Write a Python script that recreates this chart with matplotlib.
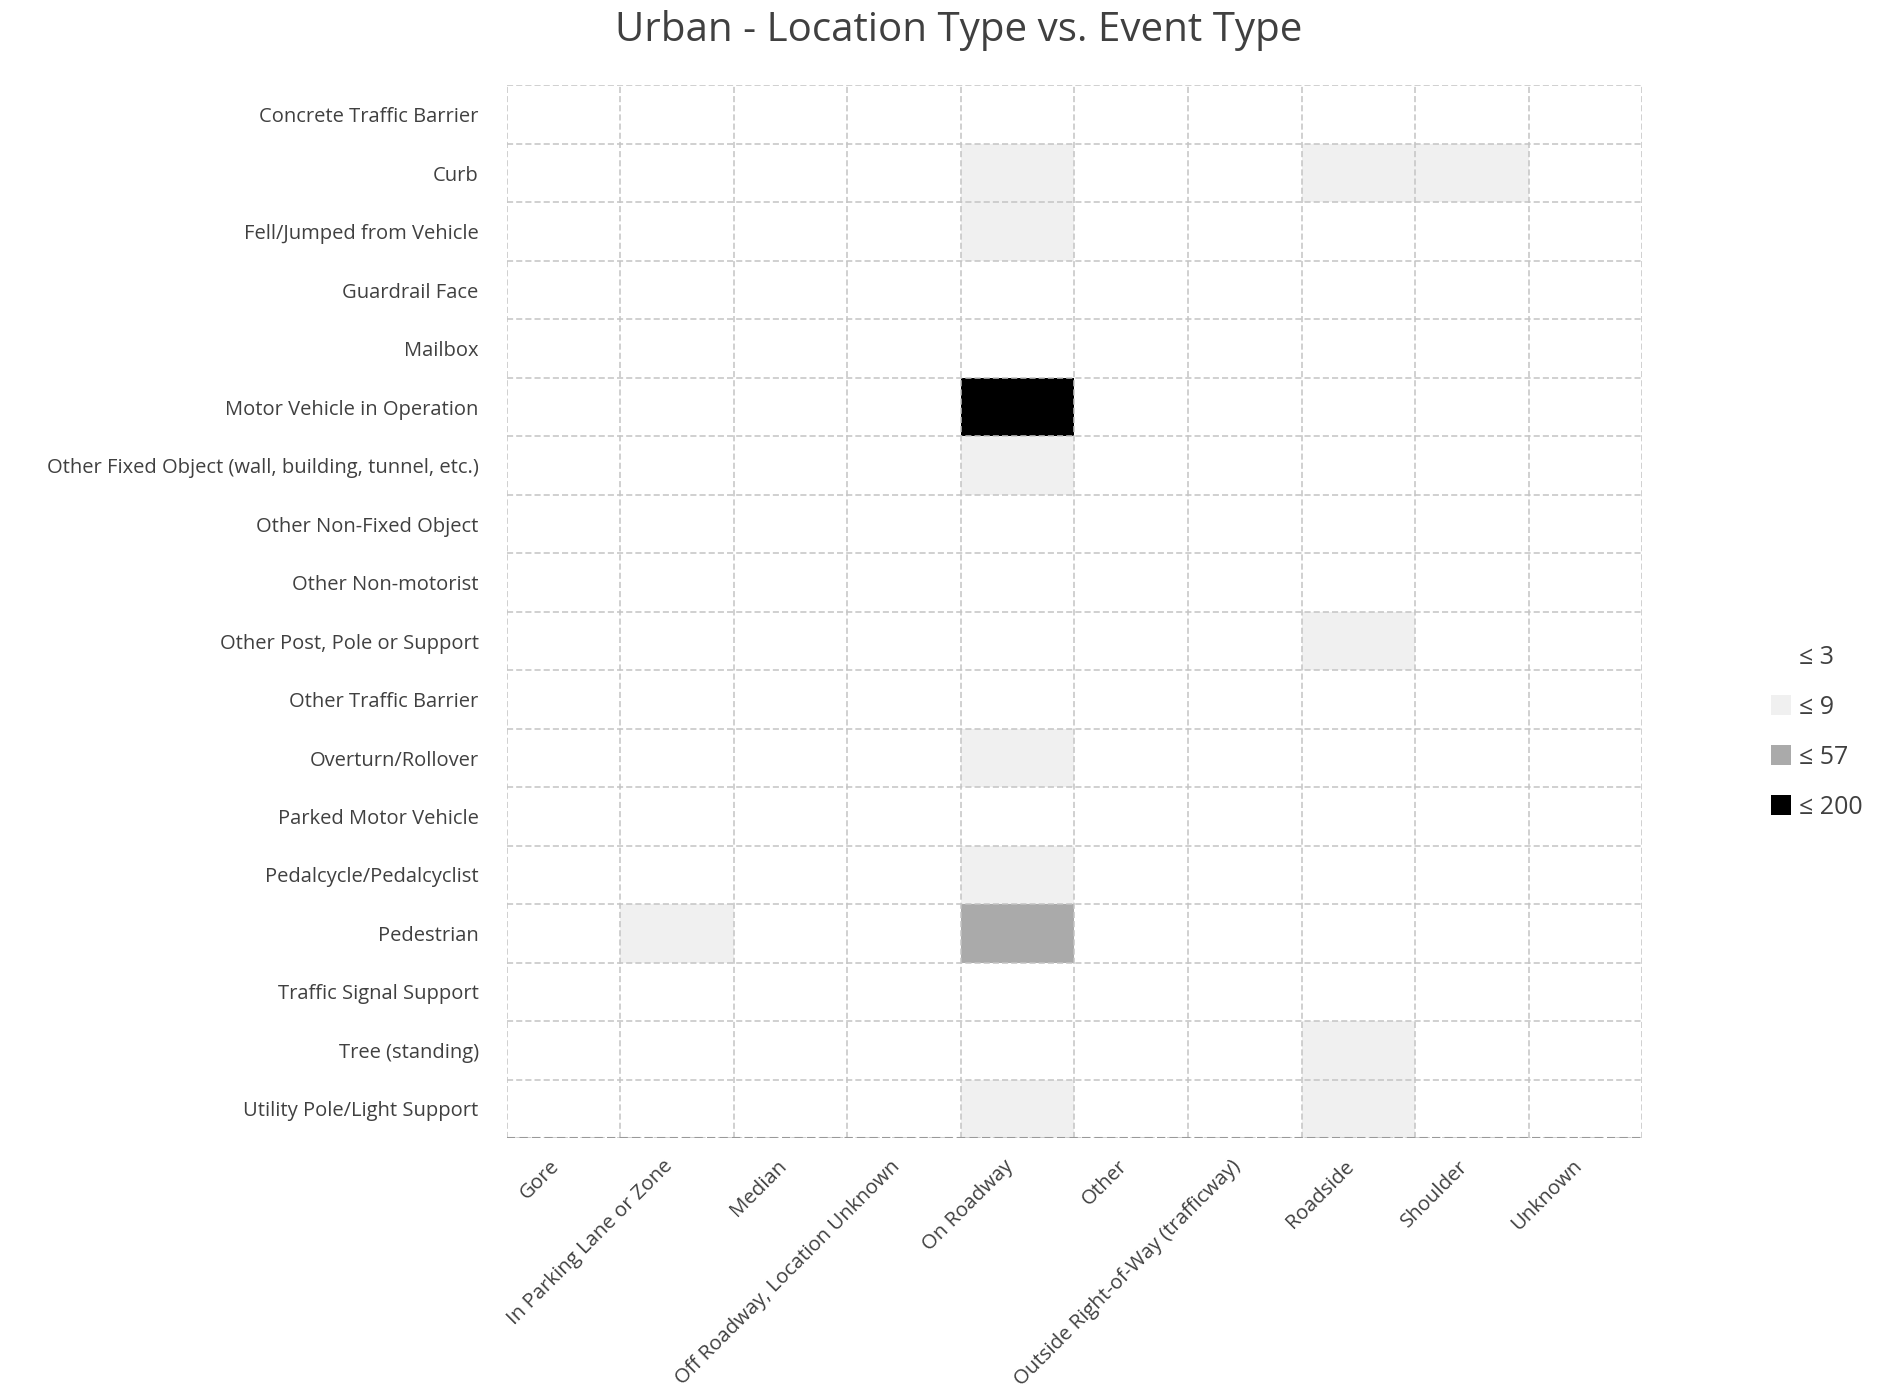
import matplotlib
matplotlib.use("Agg")
import matplotlib.pyplot as plt
from matplotlib.colors import ListedColormap, BoundaryNorm
from matplotlib.patches import Patch
from matplotlib.transforms import ScaledTranslation
import numpy as np

plt.rcParams["font.family"] = ["Open Sans", "DejaVu Sans"]

event_types = [
    "Concrete Traffic Barrier", "Curb", "Fell/Jumped from Vehicle", "Guardrail Face",
    "Mailbox", "Motor Vehicle in Operation", "Other Fixed Object (wall, building, tunnel, etc.)",
    "Other Non-Fixed Object", "Other Non-motorist", "Other Post, Pole or Support",
    "Other Traffic Barrier", "Overturn/Rollover", "Parked Motor Vehicle",
    "Pedalcycle/Pedalcyclist", "Pedestrian", "Traffic Signal Support",
    "Tree (standing)", "Utility Pole/Light Support",
]
location_types = [
    "Gore", "In Parking Lane or Zone", "Median", "Off Roadway, Location Unknown",
    "On Roadway", "Other", "Outside Right-of-Way (trafficway)", "Roadside",
    "Shoulder", "Unknown",
]

# counts per event type (rows) and location type (columns)
counts = [
    [0, 0, 0, 0, 1, 0, 0, 0, 0, 0],
    [0, 0, 0, 0, 5, 0, 0, 6, 4, 0],
    [0, 0, 0, 0, 6, 0, 0, 0, 0, 0],
    [0, 0, 0, 0, 1, 0, 0, 2, 0, 0],
    [0, 0, 0, 0, 0, 0, 0, 1, 0, 0],
    [0, 0, 0, 0, 200, 0, 0, 2, 1, 0],
    [0, 0, 0, 0, 5, 0, 0, 2, 0, 0],
    [0, 1, 0, 0, 3, 0, 0, 1, 0, 0],
    [0, 0, 0, 0, 2, 0, 0, 0, 0, 0],
    [0, 0, 0, 0, 2, 0, 0, 7, 0, 0],
    [0, 0, 1, 0, 1, 0, 0, 0, 0, 0],
    [0, 0, 0, 0, 6, 0, 0, 3, 0, 0],
    [0, 2, 0, 0, 3, 0, 0, 0, 0, 0],
    [0, 0, 0, 0, 8, 0, 0, 0, 0, 0],
    [0, 5, 0, 0, 57, 0, 0, 1, 0, 0],
    [0, 0, 0, 0, 2, 0, 0, 3, 0, 0],
    [0, 0, 0, 0, 1, 0, 0, 9, 0, 0],
    [0, 0, 0, 0, 6, 0, 0, 8, 0, 0],
]

bins = [3, 9, 57, 200]
bin_colors = ["#ffffff", "#f0f0f0", "#aaaaaa", "#000000"]
bin_labels = ["≤ 3", "≤ 9", "≤ 57", "≤ 200"]

data = np.array(counts)
cmap = ListedColormap(bin_colors)
# integer counts: "<= b" means below b + 0.5
norm = BoundaryNorm([-0.5] + [b + 0.5 for b in bins], cmap.N)

fig = plt.figure(figsize=(18.9, 14), dpi=100)
ax = fig.add_axes([0.268, 0.187, 0.601, 0.752])

ax.pcolormesh(data, cmap=cmap, norm=norm)
ax.set_xlim(0, data.shape[1])
ax.set_ylim(data.shape[0], 0)

# dashed cell borders
grid_kw = dict(color="#c4c4c4", linestyle=(0, (4, 2)), linewidth=1.1)
for i in range(data.shape[0] + 1):
    ax.axhline(i, **grid_kw)
for j in range(data.shape[1] + 1):
    ax.axvline(j, **grid_kw)
ax.axhline(data.shape[0], color="#999999", linestyle=(0, (4, 2)), linewidth=1.5)
for s in ax.spines.values():
    s.set_visible(False)

ax.set_yticks(np.arange(data.shape[0]) + 0.5)
ax.set_yticklabels(event_types, fontsize=14.5, color="#404040")
ax.set_xticks(np.arange(data.shape[1]) + 0.5)
ax.set_xticklabels(location_types, fontsize=14.7, color="#404040",
                   rotation=45, ha="right", va="top", rotation_mode="anchor")
ax.tick_params(axis="y", length=0, pad=20)
ax.tick_params(axis="x", length=0, pad=13)

# nudge rotated labels a bit left of the cell centre
shift = ScaledTranslation(-0.14, 0, fig.dpi_scale_trans)
for lbl in ax.get_xticklabels():
    lbl.set_transform(lbl.get_transform() + shift)

fig.suptitle("Urban - Location Type vs. Event Type", fontsize=29, color="#404040",
             x=0.507, y=0.993, va="top")

handles = [Patch(facecolor=c, edgecolor="none") for c in bin_colors]
fig.legend(handles, bin_labels, loc="center left", bbox_to_anchor=(0.925, 0.477),
           frameon=False, fontsize=18, labelspacing=1.0, handlelength=0.8,
           handleheight=0.8, handletextpad=0.35, labelcolor="#404040")

fig.savefig("out.png", dpi=100)
